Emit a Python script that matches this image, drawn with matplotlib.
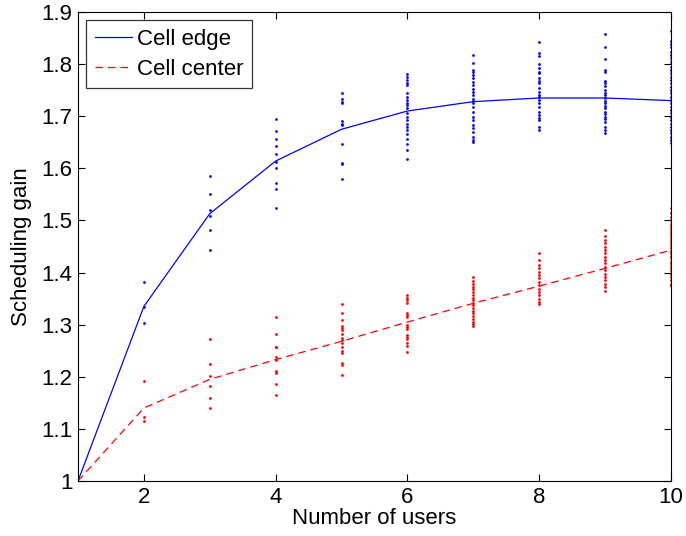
import numpy as np
import matplotlib.pyplot as plt

plt.rcParams['font.family'] = ['Liberation Sans', 'DejaVu Sans']

users = [1, 2, 3, 4, 5, 6, 7, 8, 9, 10]
edge_mean = [1.0, 1.335, 1.513, 1.614, 1.675, 1.710, 1.728, 1.735, 1.735, 1.730]
center_mean = [1.0, 1.14, 1.195, 1.233, 1.268, 1.305, 1.341, 1.374, 1.408, 1.443]

# individual runs, per number of users
edge_runs = {
    2: [1.381, 1.333, 1.304],
    3: [1.585, 1.550, 1.521, 1.508, 1.481, 1.443],
    4: [1.694, 1.672, 1.656, 1.643, 1.627, 1.613, 1.600, 1.571, 1.561, 1.524],
    5: [1.745, 1.734, 1.728, 1.725, 1.691, 1.686, 1.684, 1.646, 1.611, 1.608, 1.579],
    6: [1.781, 1.775, 1.769, 1.764, 1.759, 1.744, 1.737, 1.731, 1.726, 1.721, 1.715,
        1.706, 1.699, 1.693, 1.686, 1.680, 1.674, 1.666, 1.657, 1.647, 1.636, 1.618],
    7: [1.818, 1.802, 1.789, 1.785, 1.779, 1.773, 1.766, 1.760, 1.753, 1.747, 1.741, 1.734,
        1.729, 1.725, 1.718, 1.709, 1.699, 1.693, 1.683, 1.677, 1.670, 1.661, 1.654, 1.651],
    8: [1.842, 1.822, 1.816, 1.801, 1.792, 1.785, 1.782, 1.773, 1.768, 1.763, 1.754, 1.747,
        1.741, 1.737, 1.731, 1.725, 1.718, 1.709, 1.702, 1.696, 1.693, 1.680, 1.674],
    9: [1.857, 1.833, 1.809, 1.789, 1.784, 1.768, 1.763, 1.758, 1.750, 1.745, 1.740, 1.735,
        1.730, 1.725, 1.720, 1.715, 1.709, 1.704, 1.699, 1.694, 1.689, 1.680, 1.674, 1.668],
    10: [1.864, 1.845, 1.839, 1.832, 1.824, 1.817, 1.811, 1.805, 1.795, 1.789, 1.782, 1.776,
         1.769, 1.763, 1.757, 1.750, 1.744, 1.737, 1.731, 1.725, 1.718, 1.712, 1.706, 1.699,
         1.693, 1.686, 1.680, 1.674, 1.667, 1.661, 1.654, 1.648],
}
center_runs = {
    2: [1.192, 1.123, 1.116],
    3: [1.272, 1.224, 1.201, 1.183, 1.160, 1.140],
    4: [1.315, 1.283, 1.258, 1.257, 1.238, 1.232, 1.212, 1.207, 1.187, 1.165],
    5: [1.340, 1.322, 1.309, 1.297, 1.293, 1.290, 1.282, 1.274, 1.270, 1.264, 1.258,
        1.250, 1.245, 1.227, 1.222, 1.203],
    6: [1.356, 1.352, 1.347, 1.341, 1.322, 1.318, 1.315, 1.299, 1.296, 1.292, 1.280,
        1.276, 1.272, 1.264, 1.259, 1.247],
    7: [1.391, 1.384, 1.378, 1.373, 1.368, 1.363, 1.357, 1.352, 1.347, 1.342, 1.337,
        1.332, 1.327, 1.322, 1.317, 1.311, 1.306, 1.301, 1.297],
    8: [1.438, 1.424, 1.414, 1.408, 1.402, 1.395, 1.389, 1.382, 1.376, 1.369, 1.363,
        1.357, 1.350, 1.344, 1.340],
    9: [1.482, 1.470, 1.462, 1.456, 1.450, 1.443, 1.437, 1.430, 1.424, 1.418, 1.411,
        1.405, 1.398, 1.392, 1.386, 1.379, 1.373, 1.365],
    10: [1.523, 1.514, 1.507, 1.501, 1.494, 1.488, 1.483, 1.478, 1.473, 1.468, 1.462,
         1.457, 1.452, 1.447, 1.442, 1.437, 1.432, 1.427, 1.421, 1.416, 1.411, 1.405,
         1.398, 1.392, 1.386, 1.379, 1.374],
}

fig = plt.figure(figsize=(6.86, 5.36), dpi=100)
ax = fig.add_axes([0.1137, 0.1026, 0.8643, 0.875])

for n, vals in edge_runs.items():
    ax.plot([n] * len(vals), vals, 'o', color='blue', markersize=2.0, markeredgewidth=0)
for n, vals in center_runs.items():
    ax.plot([n] * len(vals), vals, 'o', color='red', markersize=2.0, markeredgewidth=0)

ax.plot(users, edge_mean, '-', color='blue', linewidth=0.9, label='Cell edge')
ax.plot(users, center_mean, '--', color='red', linewidth=0.9, dashes=(6, 4), label='Cell center')

ax.set_xlim(1, 10)
ax.set_ylim(1, 1.9)
ax.set_xticks([2, 4, 6, 8, 10])
ax.set_yticks(np.arange(1, 1.91, 0.1))
ax.set_yticklabels(['1', '1.1', '1.2', '1.3', '1.4', '1.5', '1.6', '1.7', '1.8', '1.9'])
ax.tick_params(direction='in', length=5, labelsize=16, top=True, right=True, pad=4)
ax.set_xlabel('Number of users', fontsize=16, labelpad=0)
ax.set_ylabel('Scheduling gain', fontsize=16, labelpad=7)

leg = ax.legend(loc='upper left', fontsize=16, fancybox=False, edgecolor='black',
                handlelength=1.7, handletextpad=0.2, borderaxespad=0.35,
                borderpad=0.4, labelspacing=0.4)
leg.get_frame().set_linewidth(0.9)

fig.savefig('out.png', dpi=100)
